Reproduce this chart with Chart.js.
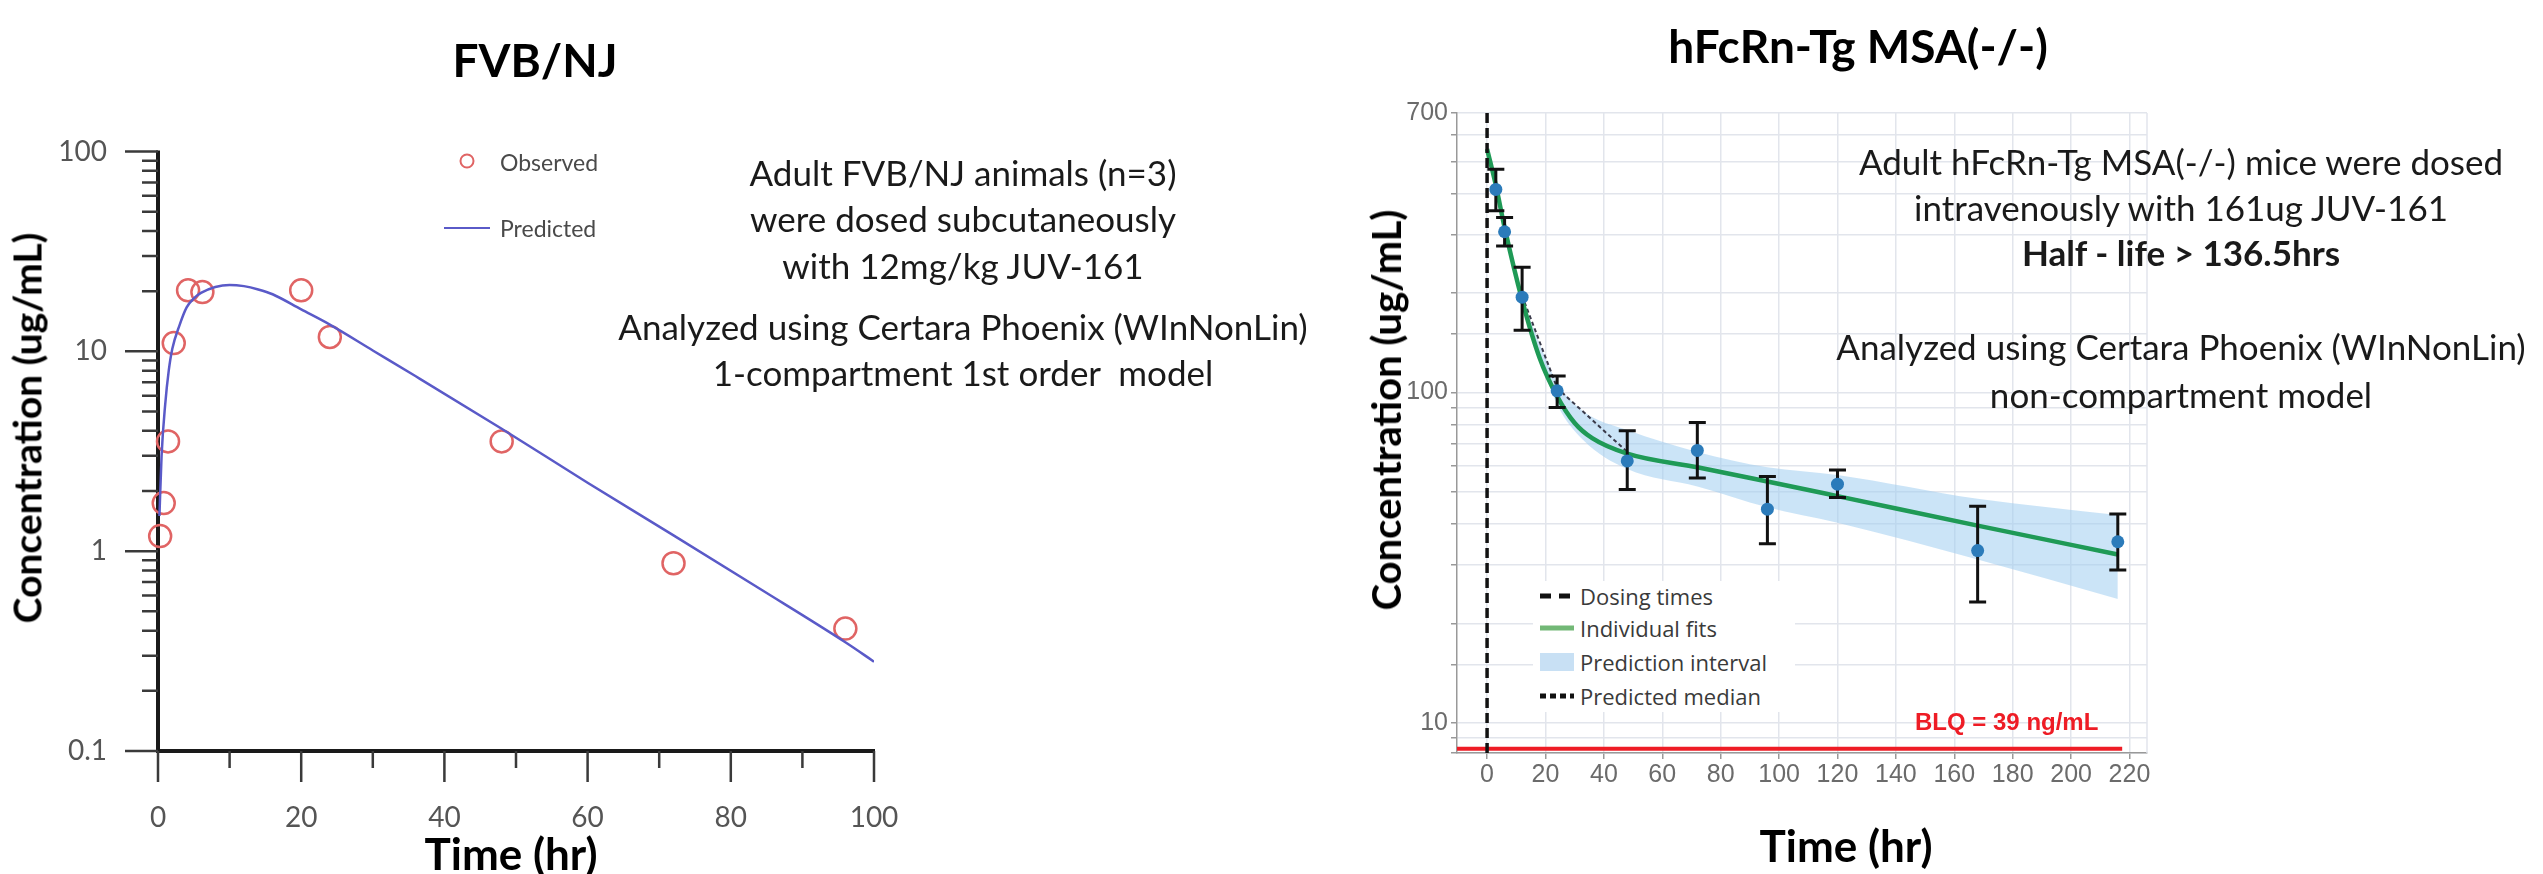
<!DOCTYPE html>
<html>
<head>
<meta charset="utf-8">
<script src="https://cdn.jsdelivr.net/npm/chart.js@4.4.1/dist/chart.umd.min.js"></script>
<style>
  body { margin: 0; background: #fff; }
  #page { position: relative; width: 2543px; height: 874px; overflow: hidden; background: #fff; }
  .wrap { position: absolute; top: 0; width: 900px; height: 874px; }
  .txt { position: absolute; white-space: pre; line-height: 1; transform: translate(-50%, -50%); color: #1a1a1a; }
  .note { font-family: Lato, sans-serif; font-size: 35px; }
  .head { font-family: Lato, sans-serif; font-weight: 700; font-size: 46px; color: #000; }
  .axt { font-family: Lato, sans-serif; font-weight: 700; font-size: 44px; color: #000; }
  .lg { position: absolute; white-space: pre; line-height: 1; transform: translateY(-50%); }
  #msaLegend { position: absolute; left: 1533px; top: 581px; width: 262px; height: 131px; background: #fff; }
  #msaLegend .lg { left: 47px; font-family: 'Open Sans', sans-serif; font-size: 22px; color: #3a3a3a; }
  #msaLegend svg { position: absolute; left: 7px; }
</style>
</head>
<body>
<div id="page">
  <div class="wrap" style="left:0"><canvas id="chartFvb" width="900" height="874"></canvas></div>
  <div class="wrap" style="left:1300px"><canvas id="chartMsa" width="900" height="874"></canvas></div>

  <!-- titles -->
  <div class="txt head" style="left:535px;top:60px">FVB/NJ</div>
  <div class="txt head" style="left:1858px;top:46px">hFcRn-Tg MSA(-/-)</div>

  <!-- axis titles -->
  <div class="txt axt" style="left:27px;top:428px;font-size:39px;transform:translate(-50%,-50%) rotate(-90deg)">Concentration (ug/mL)</div>
  <div class="txt axt" style="left:511px;top:853px">Time (hr)</div>
  <div class="txt axt" style="left:1386px;top:410px;font-size:40px;transform:translate(-50%,-50%) rotate(-90deg)">Concentration (ug/mL)</div>
  <div class="txt axt" style="left:1846px;top:845px">Time (hr)</div>

  <!-- study notes -->
  <div class="txt note" style="left:963px;top:172px">Adult FVB/NJ animals (n=3)</div>
  <div class="txt note" style="left:963px;top:218px">were dosed subcutaneously</div>
  <div class="txt note" style="left:963px;top:265px">with 12mg/kg JUV-161</div>
  <div class="txt note" style="left:963px;top:326px">Analyzed using Certara Phoenix (WInNonLin)</div>
  <div class="txt note" style="left:963px;top:372px">1-compartment 1st order  model</div>

  <div class="txt note" style="left:2181px;top:161px">Adult hFcRn-Tg MSA(-/-) mice were dosed</div>
  <div class="txt note" style="left:2181px;top:207px">intravenously with 161ug JUV-161</div>
  <div class="txt note" style="left:2181px;top:252px;font-weight:700">Half - life &gt; 136.5hrs</div>
  <div class="txt note" style="left:2181px;top:346px">Analyzed using Certara Phoenix (WInNonLin)</div>
  <div class="txt note" style="left:2181px;top:394px">non-compartment model</div>

  <div class="lg" style="left:1915px;top:722px;font:700 24px 'Liberation Sans',Arial,sans-serif;color:#ee1c25">BLQ = 39 ng/mL</div>

  <!-- left legend -->
  <svg style="position:absolute;left:455px;top:149px" width="24" height="24"><circle cx="12" cy="12" r="6.5" fill="none" stroke="#e06464" stroke-width="2"/></svg>
  <div class="lg" style="left:500px;top:162px;font:23px Lato,sans-serif;color:#4a4a4a">Observed</div>
  <svg style="position:absolute;left:444px;top:222px" width="46" height="12"><line x1="0" y1="6" x2="46" y2="6" stroke="#5a5ac8" stroke-width="2"/></svg>
  <div class="lg" style="left:500px;top:228px;font:23px Lato,sans-serif;color:#4a4a4a">Predicted</div>

  <!-- right legend -->
  <div id="msaLegend">
    <svg style="top:9px" width="34" height="12"><line x1="0" y1="6" x2="34" y2="6" stroke="#111" stroke-width="5" stroke-dasharray="11 8"/></svg>
    <div class="lg" style="top:15px">Dosing times</div>
    <svg style="top:41px" width="34" height="12"><line x1="0" y1="6" x2="34" y2="6" stroke="#72b876" stroke-width="5"/></svg>
    <div class="lg" style="top:47px">Individual fits</div>
    <svg style="top:72px" width="34" height="18"><rect x="0" y="0" width="34" height="18" fill="#c8e0f4"/></svg>
    <div class="lg" style="top:81px">Prediction interval</div>
    <svg style="top:109px" width="34" height="12"><line x1="0" y1="6" x2="34" y2="6" stroke="#111" stroke-width="5" stroke-dasharray="6 4"/></svg>
    <div class="lg" style="top:115px">Predicted median</div>
  </div>
</div>

<script>
// FVB/NJ, 12 mg/kg subcutaneous
const fvbTime = [0.3, 0.8, 1.4, 2.2, 4.2, 6.2, 20, 24, 48, 72, 96];
const fvbObserved = [1.19, 1.74, 3.54, 11.0, 20.2, 19.8, 20.2, 11.8, 3.54, 0.87, 0.41];
const fvbPredTime = [0.2, 0.5, 1, 1.5, 2, 3, 4, 5, 6, 8, 10, 12, 14, 16, 20, 24, 30, 36, 48, 60, 72, 84, 96, 100];
const fvbPredicted = [1.5, 3.0, 5.4, 8.0, 10.3, 13.5, 16.6, 18.4, 19.6, 21.0, 21.5, 21.2, 20.4, 19.3, 16.2, 13.6, 10.1, 7.5, 4.1, 2.2, 1.2, 0.65, 0.35, 0.28];
const fvbYMajor = [0.1, 1, 10, 100];
const fvbYMinor = [0.2, 0.3, 0.4, 0.5, 0.6, 0.7, 0.8, 0.9, 2, 3, 4, 5, 6, 7, 8, 9, 20, 30, 40, 50, 60, 70, 80, 90];
const fvbXMajor = [0, 20, 40, 60, 80, 100];
const fvbXMinor = [10, 30, 50, 70, 90];

// hFcRn-Tg MSA(-/-), 161 ug intravenous
const msaTime = [3, 6, 12, 24, 48, 72, 96, 120, 168, 216];
const msaMean = [411, 306, 194, 101, 62, 66.7, 44.3, 52.7, 33.2, 35.3];
const msaLow = [354, 277, 154, 90, 50.8, 55, 34.8, 48, 23.2, 29];
const msaHigh = [473, 338, 239, 112, 76.5, 81, 55.6, 58.2, 45.2, 42.8];
const fitTime = [0, 3, 6, 12, 18, 24, 30, 36, 48, 72, 96, 120, 168, 216];
const fitConc = [545, 423, 315, 190, 127, 97.2, 80.7, 72.6, 65.2, 59.3, 53.7, 48.5, 39.5, 32.3];
const bandTime = [14, 24, 33, 48, 72, 96, 120, 168, 216];
const bandUpper = [172, 107, 87.5, 76.9, 66, 59.3, 56.2, 47.6, 42.5];
const bandLower = [164, 92, 71.6, 58.6, 51.9, 44.9, 40.3, 31.2, 23.7];
const medTime = [12, 24, 48];
const medConc = [196, 103, 66];
const dosingTime = [0];
const msaYLabels = [10, 100, 700];
const msaYMin = 8.1, msaYMax = 700;
const msaXMin = -10.3, msaXMax = 226;
const blqLevel = 8.35, blqEnd = 217.5;

function pts(xs, ys) {
  return xs.map((x, i) => ({ x: x, y: ys[i] }));
}
function isLabel(v, list) {
  return list.some(l => Math.abs(v - l) / l < 1e-6);
}

// axis lines and long/short tick marks of the left plot
const fvbAxes = {
  id: 'fvbAxes',
  beforeDatasetsDraw(chart) {
    const { ctx, chartArea: a, scales: { x, y } } = chart;
    ctx.save();
    ctx.strokeStyle = '#1a1a1a';
    ctx.lineWidth = 4;
    ctx.beginPath();
    ctx.moveTo(a.left, a.top - 1);
    ctx.lineTo(a.left, a.bottom + 2);
    ctx.moveTo(a.left - 2, a.bottom);
    ctx.lineTo(a.right + 1, a.bottom);
    ctx.stroke();
    ctx.lineWidth = 2.5;
    ctx.strokeStyle = '#3a3a3a';
    ctx.beginPath();
    fvbYMajor.forEach(v => { const p = y.getPixelForValue(v); ctx.moveTo(a.left - 33, p); ctx.lineTo(a.left, p); });
    fvbYMinor.forEach(v => { const p = y.getPixelForValue(v); ctx.moveTo(a.left - 16, p); ctx.lineTo(a.left, p); });
    fvbXMajor.forEach(v => { const p = x.getPixelForValue(v); ctx.moveTo(p, a.bottom); ctx.lineTo(p, a.bottom + 31); });
    fvbXMinor.forEach(v => { const p = x.getPixelForValue(v); ctx.moveTo(p, a.bottom); ctx.lineTo(p, a.bottom + 17); });
    ctx.stroke();
    ctx.restore();
  }
};

// error bars, drawn just under the observed points; plus the right frame line
const errorBars = {
  id: 'errorBars',
  beforeDatasetDraw(chart, args) {
    if (args.index !== 0) return;
    const { ctx, scales: { x, y } } = chart;
    ctx.save();
    ctx.strokeStyle = '#111';
    ctx.lineWidth = 3;
    ctx.beginPath();
    msaTime.forEach((t, i) => {
      const px = x.getPixelForValue(t);
      const lo = y.getPixelForValue(msaLow[i]);
      const hi = y.getPixelForValue(msaHigh[i]);
      ctx.moveTo(px, lo); ctx.lineTo(px, hi);
      ctx.moveTo(px - 8.5, lo); ctx.lineTo(px + 8.5, lo);
      ctx.moveTo(px - 8.5, hi); ctx.lineTo(px + 8.5, hi);
    });
    ctx.stroke();
    ctx.restore();
  },
  beforeDatasetsDraw(chart) {
    const { ctx, chartArea: a } = chart;
    ctx.save();
    ctx.strokeStyle = '#e2e5ec';
    ctx.lineWidth = 1.5;
    ctx.beginPath();
    ctx.moveTo(a.right, a.top);
    ctx.lineTo(a.right, a.bottom);
    ctx.stroke();
    ctx.restore();
  }
};

new Chart(document.getElementById('chartFvb'), {
  type: 'scatter',
  data: {
    datasets: [
      {
        label: 'Predicted',
        data: pts(fvbPredTime, fvbPredicted),
        showLine: true,
        borderColor: '#5a5ac8',
        borderWidth: 2.5,
        pointRadius: 0,
        cubicInterpolationMode: 'monotone'
      },
      {
        label: 'Observed',
        data: pts(fvbTime, fvbObserved),
        showLine: false,
        pointRadius: 11,
        pointBorderWidth: 2.5,
        pointBorderColor: '#e06464',
        pointBackgroundColor: 'rgba(0,0,0,0)',
        clip: false
      }
    ]
  },
  options: {
    responsive: false,
    devicePixelRatio: 1,
    animation: false,
    layout: { padding: { top: 151.5, right: 26, left: 0, bottom: 0 } },
    plugins: { legend: { display: false }, tooltip: { enabled: false } },
    scales: {
      x: {
        type: 'linear', min: 0, max: 100,
        afterFit: s => { s.height = 123; s.paddingLeft = 0; s.paddingRight = 0; },
        ticks: { stepSize: 20, maxRotation: 0, padding: 42, color: '#555', font: { family: 'Lato', size: 28 } },
        grid: { display: false },
        border: { display: false }
      },
      y: {
        type: 'logarithmic', min: 0.1, max: 100,
        afterFit: s => { s.width = 158; s.paddingTop = 0; s.paddingBottom = 0; },
        ticks: {
          autoSkip: false, padding: 43, color: '#555', font: { family: 'Lato', size: 28 },
          callback: v => isLabel(v, fvbYMajor) ? String(v) : ''
        },
        grid: { display: false },
        border: { display: false }
      }
    }
  },
  plugins: [fvbAxes]
});

new Chart(document.getElementById('chartMsa'), {
  type: 'scatter',
  data: {
    datasets: [
      {
        label: 'Observed',
        data: pts(msaTime, msaMean),
        showLine: false,
        pointRadius: 6.5,
        pointBorderWidth: 0,
        pointBackgroundColor: '#2b7bba',
        clip: false
      },
      {
        label: 'Dosing times',
        data: [{ x: dosingTime[0], y: msaYMin }, { x: dosingTime[0], y: msaYMax }],
        showLine: true,
        borderColor: '#111',
        borderWidth: 3.5,
        borderDash: [10, 5],
        pointRadius: 0
      },
      {
        label: 'BLQ',
        data: [{ x: msaXMin, y: blqLevel }, { x: blqEnd, y: blqLevel }],
        showLine: true,
        borderColor: '#ee1c25',
        borderWidth: 4,
        pointRadius: 0,
        clip: false
      },
      {
        label: 'Individual fits',
        data: pts(fitTime, fitConc),
        showLine: true,
        borderColor: '#1f9a56',
        borderWidth: 4.5,
        pointRadius: 0,
        cubicInterpolationMode: 'monotone'
      },
      {
        label: 'Predicted median',
        data: pts(medTime, medConc),
        showLine: true,
        borderColor: '#3a3a4a',
        borderWidth: 2,
        borderDash: [4, 3],
        pointRadius: 0
      },
      {
        label: 'Prediction interval',
        data: pts(bandTime, bandUpper),
        showLine: true,
        borderWidth: 0,
        pointRadius: 0,
        fill: '+1',
        backgroundColor: 'rgba(160,205,240,0.55)',
        cubicInterpolationMode: 'monotone'
      },
      {
        label: 'Prediction interval lower',
        data: pts(bandTime, bandLower),
        showLine: true,
        borderWidth: 0,
        pointRadius: 0,
        cubicInterpolationMode: 'monotone'
      }
    ]
  },
  options: {
    responsive: false,
    devicePixelRatio: 1,
    animation: false,
    layout: { padding: { top: 113, right: 53, left: 0, bottom: 0 } },
    plugins: { legend: { display: false }, tooltip: { enabled: false } },
    scales: {
      x: {
        type: 'linear', min: msaXMin, max: msaXMax,
        afterFit: s => { s.height = 121; s.paddingLeft = 0; s.paddingRight = 0; },
        ticks: {
          stepSize: 20, includeBounds: false, autoSkip: false, maxRotation: 0, padding: 1,
          color: '#6b6b6b', font: { family: 'Liberation Sans', size: 25 }
        },
        grid: { color: '#e2e5ec', lineWidth: 1.5, tickLength: 6, tickColor: '#999' },
        border: { color: '#999', width: 1.5 }
      },
      y: {
        type: 'logarithmic', min: msaYMin, max: msaYMax,
        afterFit: s => { s.width = 157; s.paddingTop = 0; s.paddingBottom = 0; },
        ticks: {
          autoSkip: false, padding: 3, color: '#6b6b6b', font: { family: 'Liberation Sans', size: 25 },
          callback: v => isLabel(v, msaYLabels) ? String(v) : ''
        },
        grid: { color: '#e2e5ec', lineWidth: 1.5, tickLength: 6, tickColor: '#999' },
        border: { color: '#999', width: 1.5 }
      }
    }
  },
  plugins: [errorBars]
});
</script>
</body>
</html>
